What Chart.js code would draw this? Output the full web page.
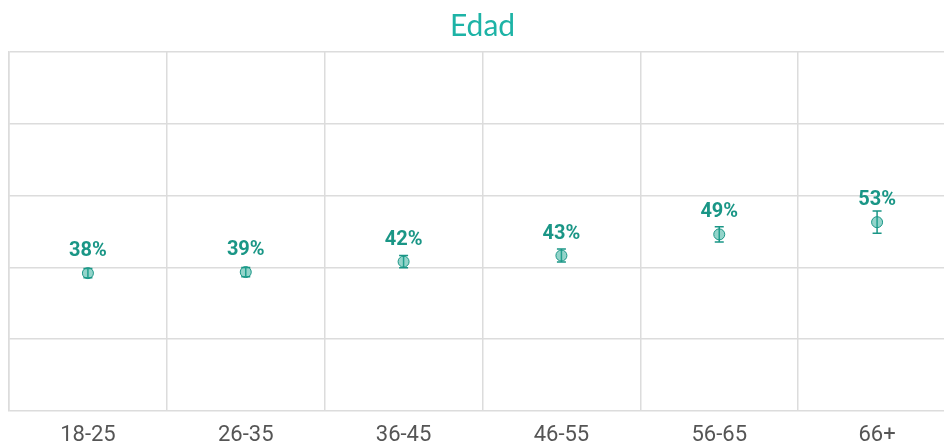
<!DOCTYPE html>
<html>
<head>
<meta charset="utf-8">
<script src="https://cdn.jsdelivr.net/npm/chart.js@4"></script>
<style>
  html, body { margin: 0; padding: 0; background: #fff; overflow: hidden; }
  #wrap { width: 964px; height: 445px; overflow: hidden; }
</style>
</head>
<body>
<div id="wrap"><canvas id="chart" width="964" height="459"></canvas></div>
<script>
// age groups
const categories = ['18-25', '26-35', '36-45', '46-55', '56-65', '66+'];
// point estimates (% of respondents)
const values = [38.4, 38.7, 41.6, 43.3, 49.2, 52.6];
// half width of the error bars, in points
const errors = [1.3, 1.3, 1.7, 1.8, 2.1, 3.1];
// labels printed above each point
const valueLabels = ['38%', '39%', '42%', '43%', '49%', '53%'];
// y axis grid
const yTicks = [0, 20, 40, 60, 80, 100];

const teal = '#1a9686';

const errorBars = {
    id: 'errorBars',
    beforeDatasetsDraw(chart) {
        const ctx = chart.ctx;
        const yScale = chart.scales.y;
        const meta = chart.getDatasetMeta(0);
        ctx.save();
        ctx.strokeStyle = teal;
        ctx.lineWidth = 1.5;
        meta.data.forEach((pt, i) => {
            const top = yScale.getPixelForValue(values[i] + errors[i]);
            const bottom = yScale.getPixelForValue(values[i] - errors[i]);
            ctx.beginPath();
            ctx.moveTo(pt.x, top);
            ctx.lineTo(pt.x, bottom);
            ctx.moveTo(pt.x - 4.5, top);
            ctx.lineTo(pt.x + 4.5, top);
            ctx.moveTo(pt.x - 4.5, bottom);
            ctx.lineTo(pt.x + 4.5, bottom);
            ctx.stroke();
        });
        ctx.restore();
    }
};

const valueText = {
    id: 'valueText',
    afterDatasetsDraw(chart) {
        const ctx = chart.ctx;
        const meta = chart.getDatasetMeta(0);
        ctx.save();
        ctx.fillStyle = teal;
        ctx.font = 'bold 20px Roboto';
        ctx.textAlign = 'center';
        ctx.textBaseline = 'middle';
        meta.data.forEach((pt, i) => {
            ctx.fillText(valueLabels[i], pt.x, pt.y - 22);
        });
        ctx.restore();
    }
};

new Chart(document.getElementById('chart'), {
    type: 'line',
    data: {
        labels: categories,
        datasets: [{
            data: values,
            showLine: false,
            pointRadius: 5.5,
            pointHoverRadius: 5.5,
            pointBackgroundColor: 'rgba(40,170,150,0.5)',
            pointBorderColor: teal,
            pointBorderWidth: 1
        }]
    },
    options: {
        responsive: false,
        animation: false,
        layout: {
            padding: { left: 9, right: 8, top: 0, bottom: 0 }
        },
        plugins: {
            legend: { display: false },
            tooltip: { enabled: false },
            title: {
                display: true,
                text: 'Edad',
                color: '#1db3a6',
                font: { family: 'Lato', size: 30, weight: 'normal', lineHeight: 1.2 },
                padding: { top: 8, bottom: 8 }
            }
        },
        scales: {
            x: {
                offset: true,
                grid: {
                    offset: true,
                    color: '#dcdcdc',
                    lineWidth: 1.5,
                    drawTicks: false
                },
                border: { display: false },
                ticks: {
                    color: '#555',
                    font: { family: 'Roboto', size: 22, lineHeight: 1 },
                    padding: 13
                }
            },
            y: {
                min: yTicks[0],
                max: yTicks[yTicks.length - 1],
                afterBuildTicks(axis) {
                    axis.ticks = yTicks.map(v => ({ value: v }));
                },
                grid: {
                    color: '#dcdcdc',
                    lineWidth: 1.5,
                    drawTicks: false
                },
                border: { color: '#dcdcdc', width: 1.5 },
                ticks: { display: false }
            }
        }
    },
    plugins: [errorBars, valueText]
});
</script>
</body>
</html>
